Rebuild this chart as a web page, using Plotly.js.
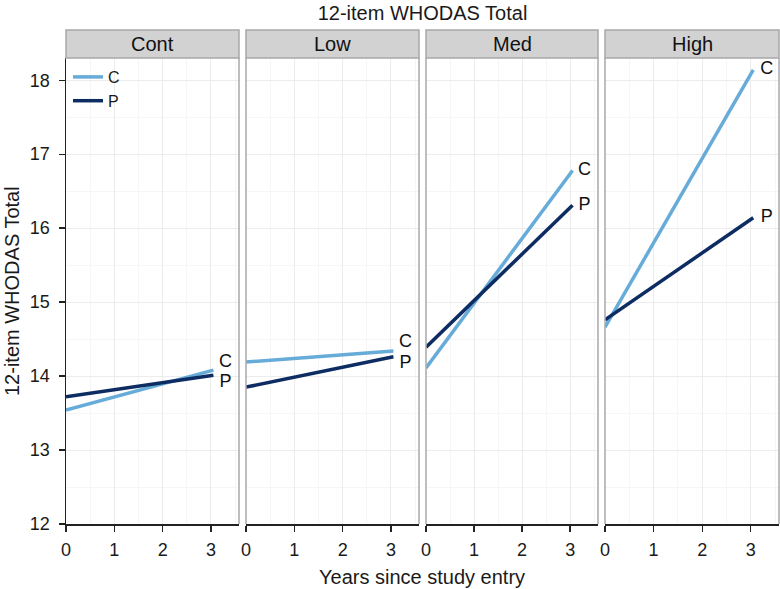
<!DOCTYPE html>
<html>
<head>
<meta charset="utf-8">
<script src="https://cdn.plot.ly/plotly-3.0.1.min.js"></script>
<style>html,body{margin:0;padding:0;background:#fff;}#chart{width:780px;height:589px;}</style>
</head>
<body>
<div id="chart"></div>
<script>
// ---- data ----
const facets = ['Cont', 'Low', 'Med', 'High'];
const years = [0, 3.05];
const cStart = [13.54, 14.19, 14.11, 14.66];
const cEnd   = [14.08, 14.34, 16.78, 18.14];
const pStart = [13.72, 13.85, 14.39, 14.76];
const pEnd   = [14.01, 14.26, 16.31, 16.14];
const labelX = [3.3, 3.3, 3.3, 3.33];
const cLabelY = [14.19, 14.45, 16.78, 18.14];
const pLabelY = [13.91, 14.17, 16.31, 16.14];
const groups = ['C', 'P'];
const xTicks = [0, 1, 2, 3];
const yTicks = [12, 13, 14, 15, 16, 17, 18];

// ---- styles ----
const W = 780, H = 589;
const colC = '#67abd9', colP = '#0d2c62';
const font = 'Liberation Sans, Arial, sans-serif';
const panelPx = [[66, 239], [246, 419], [426, 598], [605, 779]];
const plotTop = 58, plotBot = 524, stripTop = 30;
const yDom = [(H - plotBot) / H, (H - plotTop) / H];

const traces = [];
const layout = {
  width: W, height: H,
  margin: {l: 0, r: 0, t: 0, b: 0},
  paper_bgcolor: '#fff', plot_bgcolor: '#fff',
  font: {family: font, color: '#222'},
  title: {text: '12-item WHODAS Total', x: (66 + 779) / 2 / W, xanchor: 'center', y: 1 - 13 / H, yanchor: 'middle', font: {size: 20, family: font, color: '#1a1a1a'}},
  showlegend: true,
  legend: {x: 68 / W, y: 1 - 60 / H, xanchor: 'left', yanchor: 'top', bgcolor: 'rgba(0,0,0,0)', font: {size: 16, family: font, color: '#1a1a1a'}, tracegroupgap: 0, itemwidth: 30},
  shapes: [], annotations: []
};

facets.forEach((f, i) => {
  const xa = i === 0 ? 'x' : 'x' + (i + 1);
  const ya = i === 0 ? 'y' : 'y' + (i + 1);
  const xKey = i === 0 ? 'xaxis' : 'xaxis' + (i + 1);
  const yKey = i === 0 ? 'yaxis' : 'yaxis' + (i + 1);
  const [px0, px1] = panelPx[i];
  layout[xKey] = {
    domain: [px0 / W, px1 / W], anchor: ya, range: [0, 3.58],
    tickvals: xTicks, ticks: 'outside', ticklen: 6, tickcolor: '#222', tickwidth: 1.3,
    ticklabelstandoff: 3,
    tickfont: {size: 18, family: font, color: '#1a1a1a'},
    showline: true, linecolor: '#222', linewidth: 1.5,
    showgrid: true, gridcolor: '#ececec', gridwidth: 1,
    minor: {dtick: 0.5, tick0: 0, showgrid: true, gridcolor: '#f6f6f6', gridwidth: 1},
    zeroline: false, fixedrange: true
  };
  layout[yKey] = {
    domain: yDom, anchor: xa, range: [12, 18.3],
    tickvals: yTicks, showticklabels: i === 0,
    ticks: i === 0 ? 'outside' : '', ticklen: 6, tickcolor: '#222', tickwidth: 1.3,
    ticklabelstandoff: 5,
    tickfont: {size: 18, family: font, color: '#1a1a1a'},
    showline: i === 0, linecolor: '#222', linewidth: 1.5,
    showgrid: true, gridcolor: '#ececec', gridwidth: 1,
    minor: {dtick: 0.5, tick0: 0, showgrid: true, gridcolor: '#f6f6f6', gridwidth: 1},
    zeroline: false, fixedrange: true
  };
  if (i > 0) layout[yKey].matches = 'y';

  traces.push({x: years, y: [cStart[i], cEnd[i]], xaxis: xa, yaxis: ya, mode: 'lines', name: groups[0], legendgroup: 'C', showlegend: i === 0, line: {color: colC, width: 3.5}, hoverinfo: 'skip'});
  traces.push({x: years, y: [pStart[i], pEnd[i]], xaxis: xa, yaxis: ya, mode: 'lines', name: groups[1], legendgroup: 'P', showlegend: i === 0, line: {color: colP, width: 3.5}, hoverinfo: 'skip'});
  traces.push({x: [labelX[i], labelX[i]], y: [cLabelY[i], pLabelY[i]], text: groups, xaxis: xa, yaxis: ya, mode: 'text', showlegend: false, textposition: 'middle center', textfont: {size: 18, family: font, color: '#111'}, hoverinfo: 'skip', cliponaxis: false});

  const grey = '#a8a8a8';
  const x0 = px0 / W, x1 = px1 / W;
  layout.shapes.push({type: 'line', xref: 'paper', yref: 'paper', x0: x1, x1: x1, y0: yDom[0], y1: yDom[1], line: {color: grey, width: 1.5}, layer: 'above'});
  if (i > 0) layout.shapes.push({type: 'line', xref: 'paper', yref: 'paper', x0: x0, x1: x0, y0: yDom[0], y1: yDom[1], line: {color: grey, width: 1.5}, layer: 'above'});
  layout.shapes.push({type: 'rect', xref: 'paper', yref: 'paper', x0: x0, x1: x1, y0: yDom[1], y1: 1 - stripTop / H, fillcolor: '#d2d2d2', line: {color: grey, width: 1.5}, layer: 'above'});
  layout.annotations.push({text: f, xref: 'paper', yref: 'paper', x: (x0 + x1) / 2, y: 1 - ((stripTop + plotTop) / 2) / H, xanchor: 'center', yanchor: 'middle', showarrow: false, font: {size: 20, family: font, color: '#111'}});
});

layout.annotations.push({text: 'Years since study entry', xref: 'paper', yref: 'paper', x: (66 + 779) / 2 / W, y: 1 - 577 / H, xanchor: 'center', yanchor: 'middle', showarrow: false, font: {size: 20, family: font, color: '#1a1a1a'}});
layout.annotations.push({text: '12-item WHODAS Total', xref: 'paper', yref: 'paper', x: 12 / W, y: 1 - ((plotTop + plotBot) / 2) / H, xanchor: 'center', yanchor: 'middle', textangle: -90, showarrow: false, font: {size: 20, family: font, color: '#1a1a1a'}});

Plotly.newPlot('chart', traces, layout, {displayModeBar: false, staticPlot: true});
</script>
</body>
</html>
